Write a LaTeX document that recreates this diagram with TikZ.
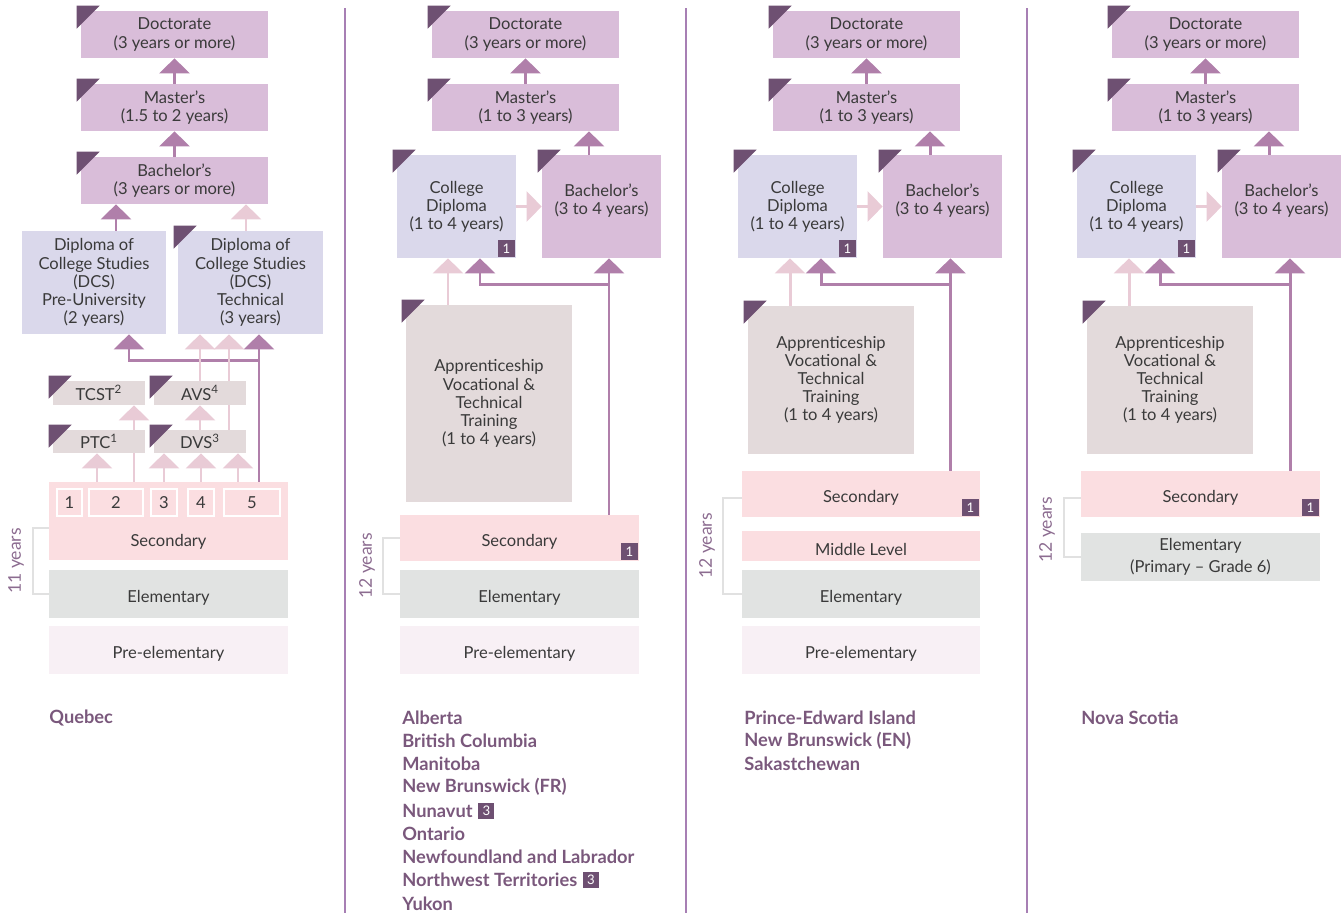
\documentclass[tikz,border=0pt]{standalone}
\usepackage{fontspec}
\setmainfont{Lato}
\usetikzlibrary{arrows.meta,calc,fit,backgrounds,positioning}

\definecolor{univ}{HTML}{D9BDD9}
\definecolor{coll}{HTML}{DAD8EB}
\definecolor{trade}{HTML}{E3DADB}
\definecolor{second}{HTML}{FBDEE1}
\definecolor{elem}{HTML}{E1E3E2}
\definecolor{preel}{HTML}{F8F0F5}
\definecolor{corner}{HTML}{6E5072}
\definecolor{dkarr}{HTML}{B07FAA}
\definecolor{ltarr}{HTML}{E9CBD6}
\definecolor{sepline}{HTML}{A77FB4}
\definecolor{txt}{HTML}{3A3A3A}
\definecolor{prov}{HTML}{7A587C}
\definecolor{yrcol}{HTML}{8C6C90}
\definecolor{brack}{HTML}{E1E1E1}

\tikzset{
  lvl/.style={inner sep=0pt, align=center, text=txt, font=\fontsize{9.4}{10.3}\selectfont},
  one/.style={lvl, yshift=-0.07cm},
  nbox/.style={lvl, draw=white, line width=0.8pt},
  badge/.style={fill=corner, text=white, inner sep=0pt, minimum size=0.34cm, font=\fontsize{7.5}{7.5}\selectfont},
  dk/.style={draw=dkarr, line width=1.7pt, -{Triangle[width=0.6cm,length=0.3cm]}},
  lt/.style={dk, draw=ltarr},
  brk/.style={draw=brack, line width=1.2pt},
  yrs/.style={text=yrcol, rotate=90, inner sep=0pt, font=\fontsize{10}{10}\selectfont},
  prv/.style={anchor=west, text=prov, inner sep=0pt, font=\bfseries\fontsize{10.4}{12}\selectfont},
  colsep/.style={draw=sepline, line width=1pt},
}
\newcommand{\flag}[1]{\fill[corner] ([shift={(-4,-5)}]#1.north west) -- ++(23,0) -- ++(-23,23) -- cycle;}

\begin{document}
\begin{tikzpicture}[x=0.02cm,y=-0.02cm]
\useasboundingbox (0,0) rectangle (1343,913);

\draw[colsep] (345,8) -- (345,913);
\draw[colsep] (686,8) -- (686,913);
\draw[colsep] (1027,8) -- (1027,913);

% Quebec
\node[lvl, fill=univ, fit={(81,11) (268,58)}, label={[lvl]center:{Doctorate\\(3 years or more)}}] (docA) {};
\node[lvl, fill=univ, fit={(81,84) (268,131)}, label={[lvl]center:{Master’s\\(1.5 to 2 years)}}] (masA) {};
\node[lvl, fill=univ, fit={(81,157) (268,204)}, label={[lvl]center:{Bachelor’s\\(3 years or more)}}] (bacA) {};
\node[lvl, fill=coll, fit={(22,231) (166,334)}, label={[lvl]center:{Diploma of\\College Studies\\(DCS)\\Pre-University\\(2 years)}}] (dcsA) {};
\node[lvl, fill=coll, fit={(178,231) (323,334)}, label={[lvl]center:{Diploma of\\College Studies\\(DCS)\\Technical\\(3 years)}}] (dcsB) {};
\node[lvl, fill=trade, fit={(53,381) (145,405)}, label={[lvl]center:{TCST\textsuperscript{2}}}] (tcst) {};
\node[lvl, fill=trade, fit={(154,381) (246,405)}, label={[lvl]center:{AVS\textsuperscript{4}}}] (avs) {};
\node[lvl, fill=trade, fit={(53,430) (145,453)}, label={[lvl]center:{PTC\textsuperscript{1}}}] (ptc) {};
\node[lvl, fill=trade, fit={(154,430) (246,453)}, label={[lvl]center:{DVS\textsuperscript{3}}}] (dvs) {};
\node[lvl, fill=second, fit={(49,482) (288,560)}] (secA) {};
\node[lvl] (secAl) at ($(secA.center)+(0,21)$) {Secondary};
\node[nbox, fit={(57,489) (82,516)}, label={[lvl]center:1}] (n1) {};
\node[nbox, fit={(89,489) (143,516)}, label={[lvl]center:2}] (n2) {};
\node[nbox, fit={(151,489) (177,516)}, label={[lvl]center:3}] (n3) {};
\node[nbox, fit={(188,489) (214,516)}, label={[lvl]center:4}] (n4) {};
\node[nbox, fit={(224,489) (280,516)}, label={[lvl]center:5}] (n5) {};
\node[lvl, fill=elem, fit={(49,570) (288,618)}, label={[one]center:Elementary}] (elemA) {};
\node[lvl, fill=preel, fit={(49,626) (288,674)}, label={[one]center:Pre-elementary}] (preA) {};
\flag{docA} \flag{masA} \flag{bacA} \flag{dcsB}
\flag{tcst} \flag{avs} \flag{ptc} \flag{dvs}

\draw[brk] ($(secA.west)+(0,7)$) -- ++(-16,0) |- (elemA.west);
\node[yrs] (yrA) at (16,561) {11 years};
\node[prv] (quebec) at (49,718) {Quebec};

\begin{scope}[on background layer]
\draw[dk] (masA.north) -- (docA.south);
\draw[dk] (bacA.north) -- (masA.south);
\draw[dk] ($(dcsA.north)+(22,0)$) coordinate (qa) -- (qa |- bacA.south);
\draw[lt] ($(dcsB.north)+(-4.5,0)$) coordinate (qb) -- (qb |- bacA.south);
\draw[dk] ($(n5.north)+(7,0)$) coordinate (q5) -- (q5 |- dcsB.south);
\coordinate (qj) at ($(dcsA.south)+(35,26)$);
\draw[dk] (q5 |- qj) -| ($(dcsA.south)+(35,0)$);
\draw[lt] (avs.north) -- (avs.north |- dcsB.south);
\draw[lt] ($(dvs.north)+(29,0)$) coordinate (qd) -- (qd |- dcsB.south);
\draw[lt] (dvs.north) -- (dvs.north |- avs.south);
\draw[lt] ($(n2.north)+(18,0)$) coordinate (q2) -- (q2 |- tcst.south);
\draw[lt] ($(n2.north)+(-19,0)$) coordinate (q1) -- (q1 |- ptc.south);
\draw[lt] (n3.north) -- (n3.north |- dvs.south);
\draw[lt] (n4.north) -- (n4.north |- dvs.south);
\draw[lt] ($(n5.north)+(-14,0)$) coordinate (q6) -- (q6 |- dvs.south);
\end{scope}

% Alberta etc.
\node[lvl, fill=univ, fit={(432,11) (619,58)}, label={[lvl]center:{Doctorate\\(3 years or more)}}] (docB) {};
\node[lvl, fill=univ, fit={(432,84) (619,131)}, label={[lvl]center:{Master’s\\(1 to 3 years)}}] (masB) {};
\node[lvl, fill=coll, fit={(397,155) (516,258)}, label={[lvl]center:{College\\Diploma\\(1 to 4 years)}}] (colB) {};
\node[lvl, fill=univ, fit={(542,155) (661,258)}, label={[lvl, yshift=0.11cm]center:{Bachelor’s\\(3 to 4 years)}}] (bacB) {};
\node[lvl, fill=trade, fit={(406,305) (572,502)}, label={[lvl]center:{Apprenticeship\\Vocational \&\\Technical\\Training\\(1 to 4 years)}}] (appB) {};
\node[lvl, fill=second, fit={(400,515) (639,561)}, label={[one]center:Secondary}] (secB) {};
\node[lvl, fill=elem, fit={(400,570) (639,618)}, label={[one]center:Elementary}] (elemB) {};
\node[lvl, fill=preel, fit={(400,626) (639,674)}, label={[one]center:Pre-elementary}] (preB) {};
\flag{docB} \flag{masB} \flag{colB} \flag{bacB} \flag{appB}
\node[badge, anchor=south east] (bdgB1) at ([shift={(-1,-1)}]colB.south east) {1};
\node[badge, anchor=south east] (bdgB2) at ([shift={(-1,-1)}]secB.south east) {1};

\draw[brk] (secB.west) -- ++(-17,0) |- (elemB.west);
\node[yrs] (yrB) at (367,566) {12 years};
\node[prv] (alb) at (402,718) {Alberta};
\node[prv] (bc) at (402,741) {British Columbia};
\node[prv] (man) at (402,764) {Manitoba};
\node[prv] (nbfr) at (402,787) {New Brunswick (FR)};
\node[prv] (nun) at (402,811) {Nunavut};
\node[prv] (ont) at (402,834) {Ontario};
\node[prv] (nfl) at (402,857) {Newfoundland and Labrador};
\node[prv] (nwt) at (402,880) {Northwest Territories};
\node[prv] (yuk) at (402,904) {Yukon};
\node[badge, minimum size=0.32cm, right=0.1cm of nun] (bdgN) {3};
\node[badge, minimum size=0.32cm, right=0.1cm of nwt] (bdgT) {3};

\begin{scope}[on background layer]
\draw[dk] (masB.north) -- (docB.south);
\draw[dk] ($(bacB.north)+(-12.5,0)$) coordinate (bb) -- (bb |- masB.south);
\draw[lt] (colB.east) -- (colB.east -| bacB.west);
\draw[lt] ($(appB.north)+(-41,0)$) coordinate (ba) -- (ba |- colB.south);
\draw[dk] ($(secB.north)+(89.5,0)$) coordinate (bs) -- (bs |- bacB.south);
\coordinate (bj) at ($(colB.south)+(23.5,26)$);
\draw[dk] (bs |- bj) -| ($(colB.south)+(23.5,0)$);
\end{scope}

% Prince-Edward Island etc.
\node[lvl, fill=univ, fit={(773,11) (960,58)}, label={[lvl]center:{Doctorate\\(3 years or more)}}] (docC) {};
\node[lvl, fill=univ, fit={(773,84) (960,131)}, label={[lvl]center:{Master’s\\(1 to 3 years)}}] (masC) {};
\node[lvl, fill=coll, fit={(738,155) (857,258)}, label={[lvl]center:{College\\Diploma\\(1 to 4 years)}}] (colC) {};
\node[lvl, fill=univ, fit={(883,155) (1002,258)}, label={[lvl, yshift=0.11cm]center:{Bachelor’s\\(3 to 4 years)}}] (bacC) {};
\node[lvl, fill=trade, fit={(748,306) (914,454)}, label={[lvl]center:{Apprenticeship\\Vocational \&\\Technical\\Training\\(1 to 4 years)}}] (appC) {};
\node[lvl, fill=second, fit={(742,471) (980,517)}, label={[one]center:Secondary}] (secC) {};
\node[lvl, fill=second, fit={(742,531) (980,561)}, label={[one]center:Middle Level}] (midC) {};
\node[lvl, fill=elem, fit={(742,570) (980,618)}, label={[one]center:Elementary}] (elemC) {};
\node[lvl, fill=preel, fit={(742,626) (980,674)}, label={[one]center:Pre-elementary}] (preC) {};
\flag{docC} \flag{masC} \flag{colC} \flag{bacC} \flag{appC}
\node[badge, anchor=south east] (bdgC1) at ([shift={(-1,-1)}]colC.south east) {1};
\node[badge, anchor=south east] (bdgC2) at ([shift={(-1,-1)}]secC.south east) {1};

\draw[brk] ($(secC.west)+(0,4)$) -- ++(-19,0) |- (elemC.west);
\node[yrs] (yrC) at (707,546) {12 years};
\node[prv] (pei) at (744,718) {Prince-Edward Island};
\node[prv] (nben) at (744,741) {New Brunswick (EN)};
\node[prv] (sak) at (744,764) {Sakastchewan};

\begin{scope}[on background layer]
\draw[dk] (masC.north) -- (docC.south);
\draw[dk] ($(bacC.north)+(-12.5,0)$) coordinate (cb) -- (cb |- masC.south);
\draw[lt] (colC.east) -- (colC.east -| bacC.west);
\draw[lt] ($(appC.north)+(-41,0)$) coordinate (ca) -- (ca |- colC.south);
\draw[dk] ($(secC.north)+(89.5,0)$) coordinate (cs) -- (cs |- bacC.south);
\coordinate (cj) at ($(colC.south)+(23.5,26)$);
\draw[dk] (cs |- cj) -| ($(colC.south)+(23.5,0)$);
\end{scope}

% Nova Scotia
\node[lvl, fill=univ, fit={(1112,11) (1299,58)}, label={[lvl]center:{Doctorate\\(3 years or more)}}] (docD) {};
\node[lvl, fill=univ, fit={(1112,84) (1299,131)}, label={[lvl]center:{Master’s\\(1 to 3 years)}}] (masD) {};
\node[lvl, fill=coll, fit={(1077,155) (1196,258)}, label={[lvl]center:{College\\Diploma\\(1 to 4 years)}}] (colD) {};
\node[lvl, fill=univ, fit={(1222,155) (1341,258)}, label={[lvl, yshift=0.11cm]center:{Bachelor’s\\(3 to 4 years)}}] (bacD) {};
\node[lvl, fill=trade, fit={(1087,306) (1253,454)}, label={[lvl]center:{Apprenticeship\\Vocational \&\\Technical\\Training\\(1 to 4 years)}}] (appD) {};
\node[lvl, fill=second, fit={(1081,471) (1320,517)}, label={[one]center:Secondary}] (secD) {};
\node[lvl, fill=elem, fit={(1081,533) (1320,581)}, label={[lvl]center:{Elementary\\[2pt](Primary – Grade 6)}}] (elemD) {};
\flag{docD} \flag{masD} \flag{colD} \flag{bacD} \flag{appD}
\node[badge, anchor=south east] (bdgD1) at ([shift={(-1,-1)}]colD.south east) {1};
\node[badge, anchor=south east] (bdgD2) at ([shift={(-1,-1)}]secD.south east) {1};

\draw[brk] ($(secD.west)+(0,4)$) -- ++(-17,0) |- (elemD.west);
\node[yrs] (yrD) at (1047,530) {12 years};
\node[prv] (ns) at (1081,718) {Nova Scotia};

\begin{scope}[on background layer]
\draw[dk] (masD.north) -- (docD.south);
\draw[dk] ($(bacD.north)+(-12.5,0)$) coordinate (db) -- (db |- masD.south);
\draw[lt] (colD.east) -- (colD.east -| bacD.west);
\draw[lt] ($(appD.north)+(-41,0)$) coordinate (da) -- (da |- colD.south);
\draw[dk] ($(secD.north)+(89.5,0)$) coordinate (ds) -- (ds |- bacD.south);
\coordinate (dj) at ($(colD.south)+(23.5,26)$);
\draw[dk] (ds |- dj) -| ($(colD.south)+(23.5,0)$);
\end{scope}
\end{tikzpicture}
\end{document}
